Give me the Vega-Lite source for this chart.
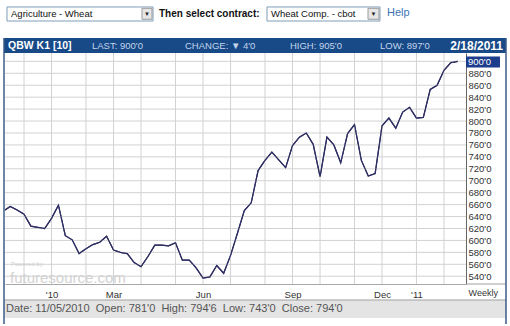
{
 "$schema": "https://vega.github.io/schema/vega-lite/v6.json",
 "width": 461,
 "height": 231,
 "autosize": {"type": "none"},
 "padding": {"left": 5, "top": 53, "right": 44, "bottom": 42},
 "background": "#ffffff",
 "config": {"view": {"stroke": null}, "font": "Liberation Sans"},
 "resolve": {"axis": {"x": "independent", "y": "independent"}},
 "datasets": {
  "wheat": [
   {"date":"2009-11-13","close":649},{"date":"2009-11-20","close":657},{"date":"2009-11-27","close":651},
   {"date":"2009-12-04","close":644},{"date":"2009-12-11","close":624},{"date":"2009-12-18","close":622},
   {"date":"2009-12-25","close":620},{"date":"2010-01-01","close":637},{"date":"2010-01-08","close":659},
   {"date":"2010-01-15","close":608},{"date":"2010-01-22","close":601},{"date":"2010-01-29","close":578},
   {"date":"2010-02-05","close":586},{"date":"2010-02-12","close":593},{"date":"2010-02-19","close":597},
   {"date":"2010-02-26","close":607},{"date":"2010-03-05","close":584},{"date":"2010-03-12","close":580},
   {"date":"2010-03-19","close":578},{"date":"2010-03-26","close":563},{"date":"2010-04-02","close":556},
   {"date":"2010-04-09","close":573},{"date":"2010-04-16","close":592},{"date":"2010-04-23","close":592},
   {"date":"2010-04-30","close":591},{"date":"2010-05-07","close":596},{"date":"2010-05-14","close":567},
   {"date":"2010-05-21","close":567},{"date":"2010-05-28","close":554},{"date":"2010-06-04","close":537},
   {"date":"2010-06-11","close":539},{"date":"2010-06-18","close":558},{"date":"2010-06-25","close":545},
   {"date":"2010-07-02","close":575},{"date":"2010-07-09","close":612},{"date":"2010-07-16","close":650},
   {"date":"2010-07-23","close":663},{"date":"2010-07-30","close":717},{"date":"2010-08-06","close":734},
   {"date":"2010-08-13","close":748},{"date":"2010-08-20","close":735},{"date":"2010-08-27","close":722},
   {"date":"2010-09-03","close":759},{"date":"2010-09-10","close":773},{"date":"2010-09-17","close":780},
   {"date":"2010-09-24","close":761},{"date":"2010-10-01","close":707},{"date":"2010-10-08","close":773},
   {"date":"2010-10-15","close":760},{"date":"2010-10-22","close":730},{"date":"2010-10-29","close":779},
   {"date":"2010-11-05","close":794},{"date":"2010-11-12","close":734},{"date":"2010-11-19","close":708},
   {"date":"2010-11-26","close":712},{"date":"2010-12-03","close":792},{"date":"2010-12-10","close":805},
   {"date":"2010-12-17","close":788},{"date":"2010-12-24","close":815},{"date":"2010-12-31","close":823},
   {"date":"2011-01-07","close":805},{"date":"2011-01-14","close":806},{"date":"2011-01-21","close":853},
   {"date":"2011-01-28","close":860},{"date":"2011-02-04","close":885},{"date":"2011-02-11","close":898},
   {"date":"2011-02-18","close":900}
  ],
  "ygrid": [
   {"v":540},{"v":560},{"v":580},{"v":600},{"v":620},{"v":640},{"v":660},{"v":680},{"v":700},{"v":720},
   {"v":740},{"v":760},{"v":780},{"v":800},{"v":820},{"v":840},{"v":860},{"v":880},{"v":900}
  ],
  "xgrid": [
   {"d":"2009-12-04"},{"d":"2010-01-01"},{"d":"2010-02-05"},{"d":"2010-03-05"},{"d":"2010-04-02"},
   {"d":"2010-05-07"},{"d":"2010-06-04"},{"d":"2010-07-02"},{"d":"2010-08-06"},{"d":"2010-09-03"},
   {"d":"2010-10-01"},{"d":"2010-11-05"},{"d":"2010-12-03"},{"d":"2011-01-07"},{"d":"2011-02-04"}
  ]
 },
 "layer": [
  {"data": {"name": "wheat"},
   "mark": {"type": "line", "clip": true, "color": "#2e2e62", "strokeWidth": 1.2},
   "encoding": {
    "x": {"field": "date", "type": "temporal",
     "scale": {"type": "utc", "nice": false, "domain": [{"year":2009,"month":11,"date":14,"hours":16,"minutes":20,"utc":true}, {"year":2011,"month":2,"date":26,"hours":9,"utc":true}]},
     "axis": {"title": null, "orient": "bottom", "ticks": false, "domain": true, "domainColor": "#a8a8a8",
      "grid": false, "labelFontSize": 9.5, "labelColor": "#333333", "labelPadding": 5,
      "labelOverlap": false, "labelFlush": false, "labelAlign": "center",
      "values": [
       {"year":2009,"month":12,"date":4,"utc":true},{"year":2010,"month":1,"date":1,"utc":true},
       {"year":2010,"month":2,"date":5,"utc":true},{"year":2010,"month":3,"date":5,"utc":true},
       {"year":2010,"month":4,"date":2,"utc":true},{"year":2010,"month":5,"date":7,"utc":true},
       {"year":2010,"month":6,"date":4,"utc":true},{"year":2010,"month":7,"date":2,"utc":true},
       {"year":2010,"month":8,"date":6,"utc":true},{"year":2010,"month":9,"date":3,"utc":true},
       {"year":2010,"month":10,"date":1,"utc":true},{"year":2010,"month":11,"date":5,"utc":true},
       {"year":2010,"month":12,"date":3,"utc":true},{"year":2011,"month":1,"date":7,"utc":true},
       {"year":2011,"month":2,"date":4,"utc":true}],
      "labelExpr": "utcmonth(datum.value) == 0 ? (utcyear(datum.value) == 2010 ? \"'10\" : \"'11\") : utcmonth(datum.value) == 2 ? 'Mar' : utcmonth(datum.value) == 5 ? 'Jun' : utcmonth(datum.value) == 8 ? 'Sep' : (utcmonth(datum.value) == 11 && utcyear(datum.value) == 2010) ? 'Dec' : ''"}},
    "y": {"field": "close", "type": "quantitative",
     "scale": {"domain": [527, 914], "nice": false, "zero": false},
     "axis": {"title": null, "orient": "right", "ticks": false, "domain": true, "domainColor": "#666666",
      "grid": false, "labelFontSize": 9.5, "labelColor": "#333333", "labelPadding": 2,
      "labelAlign": "left", "labelOverlap": false,
      "values": [540, 560, 580, 600, 620, 640, 660, 680, 700, 720, 740, 760, 780, 800, 820, 840, 860, 880, 900],
      "labelExpr": "datum.label + \"'0\""}}}},
  {"data": {"name": "ygrid"}, "mark": {"type": "rule", "color": "#d2d2d2", "strokeWidth": 1},
   "encoding": {"y": {"field": "v", "type": "quantitative", "axis": null}}},
  {"data": {"name": "xgrid"}, "mark": {"type": "rule", "color": "#d2d2d2", "strokeWidth": 1},
   "encoding": {"x": {"field": "d", "type": "temporal", "axis": null}}},
  {"data": {"name": "wheat"},
   "mark": {"type": "line", "clip": true, "color": "#2e2e62", "strokeWidth": 1.2},
   "encoding": {
    "x": {"field": "date", "type": "temporal", "axis": null},
    "y": {"field": "close", "type": "quantitative", "axis": null}}},
  {"data": {"values": [{}]}, "mark": {"type": "rect", "color": "#e4e4e4"},
   "encoding": {
    "x": {"datum": {"year":2009,"month":11,"date":13,"hours":16,"utc":true}, "type": "temporal", "axis": null},
    "x2": {"datum": {"year":2011,"month":4,"date":8,"hours":1,"utc":true}},
    "y": {"datum": 500.2, "type": "quantitative", "axis": null},
    "y2": {"datum": 470}}},
  {"data": {"values": [{}]}, "mark": {"type": "rule", "color": "#a0a0a0", "strokeWidth": 1},
   "encoding": {
    "x": {"datum": {"year":2009,"month":11,"date":13,"hours":16,"utc":true}, "type": "temporal", "axis": null},
    "x2": {"datum": {"year":2011,"month":4,"date":8,"hours":1,"utc":true}},
    "y": {"datum": 500.2, "type": "quantitative", "axis": null}}},
  {"data": {"values": [{}]}, "mark": {"type": "rect", "color": "#174a87"},
   "encoding": {
    "x": {"datum": {"year":2009,"month":11,"date":13,"hours":16,"utc":true}, "type": "temporal", "axis": null},
    "x2": {"datum": {"year":2011,"month":4,"date":8,"hours":1,"utc":true}},
    "y": {"datum": 939.1, "type": "quantitative", "axis": null},
    "y2": {"datum": 914}}},
  {"data": {"values": [{}]}, "mark": {"type": "rect", "fill": "#ffffff", "stroke": "#7f9db9", "strokeWidth": 1},
   "encoding": {
    "x": {"datum": {"year":2009,"month":11,"date":16,"hours":17,"utc":true}, "type": "temporal", "axis": null},
    "x2": {"datum": {"year":2010,"month":4,"date":14,"hours":4,"utc":true}},
    "y": {"datum": 991.1, "type": "quantitative", "axis": null},
    "y2": {"datum": 967.6}}},
  {"data": {"values": [{}]}, "mark": {"type": "rect", "fill": "#e6e6e6", "stroke": "#9a9a9a", "strokeWidth": 1},
   "encoding": {
    "x": {"datum": {"year":2010,"month":4,"date":2,"hours":23,"utc":true}, "type": "temporal", "axis": null},
    "x2": {"datum": {"year":2010,"month":4,"date":13,"hours":3,"utc":true}},
    "y": {"datum": 988.9, "type": "quantitative", "axis": null},
    "y2": {"datum": 970.5}}},
  {"data": {"values": [{"t": "▼"}]}, "mark": {"type": "text", "align": "center", "baseline": "middle", "fontSize": 6, "color": "#222222"},
   "encoding": {
    "x": {"datum": {"year":2010,"month":4,"date":8,"hours":1,"utc":true}, "type": "temporal", "axis": null},
    "y": {"datum": 979.3, "type": "quantitative", "axis": null},
    "text": {"field": "t"}}},
  {"data": {"values": [{"t": "Agriculture - Wheat"}]}, "mark": {"type": "text", "align": "left", "baseline": "middle", "fontSize": 9.5, "color": "#111111"},
   "encoding": {
    "x": {"datum": {"year":2009,"month":11,"date":20,"hours":19,"utc":true}, "type": "temporal", "axis": null},
    "y": {"datum": 979.3, "type": "quantitative", "axis": null},
    "text": {"field": "t"}}},
  {"data": {"values": [{"t": "Then select contract:"}]}, "mark": {"type": "text", "align": "left", "baseline": "middle", "fontSize": 10, "fontWeight": "bold", "color": "#111111"},
   "encoding": {
    "x": {"datum": {"year":2010,"month":4,"date":20,"hours":6,"utc":true}, "type": "temporal", "axis": null},
    "y": {"datum": 979.3, "type": "quantitative", "axis": null},
    "text": {"field": "t"}}},
  {"data": {"values": [{}]}, "mark": {"type": "rect", "fill": "#ffffff", "stroke": "#7f9db9", "strokeWidth": 1},
   "encoding": {
    "x": {"datum": {"year":2010,"month":8,"date":8,"hours":1,"utc":true}, "type": "temporal", "axis": null},
    "x2": {"datum": {"year":2010,"month":11,"date":30,"hours":22,"utc":true}},
    "y": {"datum": 991.1, "type": "quantitative", "axis": null},
    "y2": {"datum": 967.6}}},
  {"data": {"values": [{}]}, "mark": {"type": "rect", "fill": "#e6e6e6", "stroke": "#9a9a9a", "strokeWidth": 1},
   "encoding": {
    "x": {"datum": {"year":2010,"month":11,"date":18,"hours":18,"utc":true}, "type": "temporal", "axis": null},
    "x2": {"datum": {"year":2010,"month":11,"date":29,"hours":22,"utc":true}},
    "y": {"datum": 988.9, "type": "quantitative", "axis": null},
    "y2": {"datum": 970.5}}},
  {"data": {"values": [{"t": "▼"}]}, "mark": {"type": "text", "align": "center", "baseline": "middle", "fontSize": 6, "color": "#222222"},
   "encoding": {
    "x": {"datum": {"year":2010,"month":11,"date":24,"hours":10,"utc":true}, "type": "temporal", "axis": null},
    "y": {"datum": 979.3, "type": "quantitative", "axis": null},
    "text": {"field": "t"}}},
  {"data": {"values": [{"t": "Wheat Comp. - cbot"}]}, "mark": {"type": "text", "align": "left", "baseline": "middle", "fontSize": 9.5, "color": "#111111"},
   "encoding": {
    "x": {"datum": {"year":2010,"month":8,"date":12,"hours":3,"utc":true}, "type": "temporal", "axis": null},
    "y": {"datum": 979.3, "type": "quantitative", "axis": null},
    "text": {"field": "t"}}},
  {"data": {"values": [{"t": "Help"}]}, "mark": {"type": "text", "align": "left", "baseline": "middle", "fontSize": 11, "color": "#3d74b5"},
   "encoding": {
    "x": {"datum": {"year":2010,"month":12,"date":8,"hours":1,"utc":true}, "type": "temporal", "axis": null},
    "y": {"datum": 980.5, "type": "quantitative", "axis": null},
    "text": {"field": "t"}}},
  {"data": {"values": [{"t": "QBW K1 [10]"}]}, "mark": {"type": "text", "align": "left", "baseline": "middle", "fontSize": 10.5, "fontWeight": "bold", "color": "#ffffff"},
   "encoding": {
    "x": {"datum": {"year":2009,"month":11,"date":17,"hours":17,"utc":true}, "type": "temporal", "axis": null},
    "y": {"datum": 925.7, "type": "quantitative", "axis": null},
    "text": {"field": "t"}}},
  {"data": {"values": [{"t": "LAST: 900'0"}]}, "mark": {"type": "text", "align": "left", "baseline": "middle", "fontSize": 9.5, "color": "#c5d5ec"},
   "encoding": {
    "x": {"datum": {"year":2010,"month":2,"date":11,"hours":3,"utc":true}, "type": "temporal", "axis": null},
    "y": {"datum": 925.7, "type": "quantitative", "axis": null},
    "text": {"field": "t"}}},
  {"data": {"values": [{"t": "CHANGE: ▼ 4'0"}]}, "mark": {"type": "text", "align": "left", "baseline": "middle", "fontSize": 9.5, "color": "#c5d5ec"},
   "encoding": {
    "x": {"datum": {"year":2010,"month":5,"date":16,"hours":16,"utc":true}, "type": "temporal", "axis": null},
    "y": {"datum": 925.7, "type": "quantitative", "axis": null},
    "text": {"field": "t"}}},
  {"data": {"values": [{"t": "HIGH: 905'0"}]}, "mark": {"type": "text", "align": "left", "baseline": "middle", "fontSize": 9.5, "color": "#c5d5ec"},
   "encoding": {
    "x": {"datum": {"year":2010,"month":8,"date":31,"hours":10,"utc":true}, "type": "temporal", "axis": null},
    "y": {"datum": 925.7, "type": "quantitative", "axis": null},
    "text": {"field": "t"}}},
  {"data": {"values": [{"t": "LOW: 897'0"}]}, "mark": {"type": "text", "align": "left", "baseline": "middle", "fontSize": 9.5, "color": "#c5d5ec"},
   "encoding": {
    "x": {"datum": {"year":2010,"month":11,"date":30,"hours":22,"utc":true}, "type": "temporal", "axis": null},
    "y": {"datum": 925.7, "type": "quantitative", "axis": null},
    "text": {"field": "t"}}},
  {"data": {"values": [{"t": "2/18/2011"}]}, "mark": {"type": "text", "align": "right", "baseline": "middle", "fontSize": 12, "fontWeight": "bold", "color": "#ffffff"},
   "encoding": {
    "x": {"datum": {"year":2011,"month":4,"date":5,"hours":0,"utc":true}, "type": "temporal", "axis": null},
    "y": {"datum": 925.7, "type": "quantitative", "axis": null},
    "text": {"field": "t"}}},
  {"data": {"values": [{"t": "futuresource.com"}]}, "mark": {"type": "text", "align": "left", "baseline": "middle", "fontSize": 15, "color": "#d2d2d2"},
   "encoding": {
    "x": {"datum": {"year":2009,"month":11,"date":19,"hours":18,"utc":true}, "type": "temporal", "axis": null},
    "y": {"datum": 537.5, "type": "quantitative", "axis": null},
    "text": {"field": "t"}}},
  {"data": {"values": [{"t": "Powered by"}]}, "mark": {"type": "text", "align": "left", "baseline": "middle", "fontSize": 6, "color": "#cfcfcf"},
   "encoding": {
    "x": {"datum": {"year":2009,"month":11,"date":20,"hours":19,"utc":true}, "type": "temporal", "axis": null},
    "y": {"datum": 561, "type": "quantitative", "axis": null},
    "text": {"field": "t"}}},
  {"data": {"values": [{}]}, "mark": {"type": "rect", "color": "#1c3c8c"},
   "encoding": {
    "x": {"datum": {"year":2011,"month":2,"date":26,"hours":9,"utc":true}, "type": "temporal", "axis": null},
    "x2": {"datum": {"year":2011,"month":4,"date":1,"hours":22,"utc":true}},
    "y": {"datum": 908.1, "type": "quantitative", "axis": null},
    "y2": {"datum": 889.7}}},
  {"data": {"values": [{"t": "900'0"}]}, "mark": {"type": "text", "align": "left", "baseline": "middle", "fontSize": 9.5, "color": "#ffffff"},
   "encoding": {
    "x": {"datum": {"year":2011,"month":2,"date":28,"hours":10,"utc":true}, "type": "temporal", "axis": null},
    "y": {"datum": 898.9, "type": "quantitative", "axis": null},
    "text": {"field": "t"}}},
  {"data": {"values": [{"t": "Weekly"}]}, "mark": {"type": "text", "align": "right", "baseline": "middle", "fontSize": 9, "color": "#333333"},
   "encoding": {
    "x": {"datum": {"year":2011,"month":3,"date":30,"hours":21,"utc":true}, "type": "temporal", "axis": null},
    "y": {"datum": 511.1, "type": "quantitative", "axis": null},
    "text": {"field": "t"}}},
  {"data": {"values": [{"t": "Date: 11/05/2010\u00a0 Open: 781'0\u00a0 High: 794'6\u00a0 Low: 743'0\u00a0 Close: 794'0"}]}, "mark": {"type": "text", "align": "left", "baseline": "middle", "fontSize": 11, "color": "#555555"},
   "encoding": {
    "x": {"datum": {"year":2009,"month":11,"date":15,"hours":17,"utc":true}, "type": "temporal", "axis": null},
    "y": {"datum": 485.1, "type": "quantitative", "axis": null},
    "text": {"field": "t"}}},
  {"data": {"values": [{}]}, "mark": {"type": "rule", "color": "#a0a0a0", "strokeWidth": 1},
   "encoding": {
    "x": {"datum": {"year":2011,"month":2,"date":26,"hours":9,"utc":true}, "type": "temporal", "axis": null},
    "x2": {"datum": {"year":2011,"month":4,"date":8,"hours":1,"utc":true}},
    "y": {"datum": 527, "type": "quantitative", "axis": null}}},
  {"data": {"values": [{}]}, "mark": {"type": "rule", "color": "#3b5b88", "strokeWidth": 1.5},
   "encoding": {
    "x": {"datum": {"year":2009,"month":11,"date":13,"hours":16,"utc":true}, "type": "temporal", "axis": null},
    "y": {"datum": 939.1, "type": "quantitative", "axis": null},
    "y2": {"datum": 460}}},
  {"data": {"values": [{}]}, "mark": {"type": "rule", "color": "#3b5b88", "strokeWidth": 1.5},
   "encoding": {
    "x": {"datum": {"year":2011,"month":4,"date":8,"hours":1,"utc":true}, "type": "temporal", "axis": null},
    "y": {"datum": 939.1, "type": "quantitative", "axis": null},
    "y2": {"datum": 460}}}
 ]
}
